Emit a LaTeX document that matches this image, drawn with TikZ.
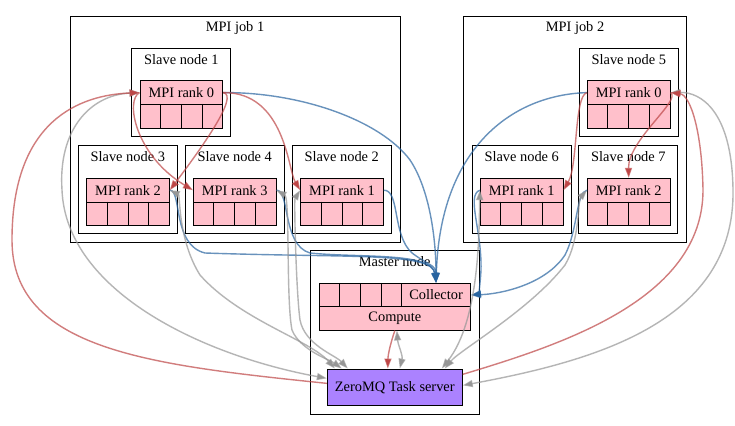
\documentclass[tikz,border=0pt]{standalone}
\usepackage{fontspec}
\setmainfont{Liberation Serif}
\usetikzlibrary{arrows.meta,calc}
\definecolor{ered}{RGB}{190,70,70}
\definecolor{eblue}{RGB}{40,100,160}
\definecolor{egray}{RGB}{150,150,150}
\definecolor{pinkf}{RGB}{255,192,203}
\definecolor{tsf}{RGB}{171,130,255}
\tikzset{
  cluster/.style={draw=black, line width=0.9pt, inner sep=0pt},
  slave/.style={cluster, minimum width=99pt, minimum height=88.5pt},
  lbl/.style={inner sep=0pt, font=\fontsize{14.4}{16}\selectfont},
  rec/.style={draw=black, line width=0.9pt, fill=pinkf, inner sep=0pt,
    minimum width=82.7pt, minimum height=23.7pt, font=\fontsize{14.4}{16}\selectfont},
  edgebase/.style={line width=1.4pt, draw opacity=0.7},
  redge/.style={edgebase, draw=ered, -{Triangle[length=10pt,width=7pt,fill=ered]}},
  bedge/.style={edgebase, draw=eblue, -{Triangle[length=10pt,width=7pt,fill=eblue]}},
  gedge/.style={edgebase, draw=egray, {Triangle[length=10pt,width=7pt,fill=egray]}-{Triangle[length=10pt,width=7pt,fill=egray]}},
}
\begin{document}
\begin{tikzpicture}[x=1pt,y=-1pt]
\fill[white] (0,0) rectangle (735,425);
\useasboundingbox (0,0) rectangle (735,425);

% clusters
\node[cluster, minimum width=330pt, minimum height=226pt] (job1) at (235,129) {};
\node[lbl] (job1l) at ([yshift=-12pt]job1.north) {MPI job 1};
\node[cluster, minimum width=223.4pt, minimum height=226pt] (job2) at (575,129) {};
\node[lbl] (job2l) at ([yshift=-12pt]job2.north) {MPI job 2};
\node[cluster, minimum width=169.3pt, minimum height=164pt] (master) at (394.65,332) {};
\node[lbl] (masterl) at ([yshift=-12pt]master.north) {Master node};

% slave nodes
\node[slave] (sn1) at (181.35,92.65) {};
\node[slave] (sn3) at (127.8,189.3) {};
\node[slave] (sn4) at (234.7,189.3) {};
\node[slave] (sn2) at (341.7,189.3) {};
\node[slave] (sn5) at (628.8,92.65) {};
\node[slave] (sn6) at (521.7,189.3) {};
\node[slave] (sn7) at (628.4,189.3) {};
\foreach \s/\t in {sn1/Slave node 1,sn2/Slave node 2,sn3/Slave node 3,sn4/Slave node 4,sn5/Slave node 5,sn6/Slave node 6,sn7/Slave node 7}
  \node[lbl] (\s l) at ([yshift=-11.8pt]\s.north) {\t};

% rank records
\node[rec] (a0) at (181.35,92.6) {MPI rank 0};
\node[rec] (ca0) at (181.35,116.3) {};
\node[rec] (a2) at (128,190.2) {MPI rank 2};
\node[rec] (ca2) at (128,213.9) {};
\node[rec] (a3) at (234.7,190.2) {MPI rank 3};
\node[rec] (ca3) at (234.7,213.9) {};
\node[rec] (a1) at (342,190.2) {MPI rank 1};
\node[rec] (ca1) at (342,213.9) {};
\node[rec] (b0) at (628.7,92.6) {MPI rank 0};
\node[rec] (cb0) at (628.7,116.3) {};
\node[rec] (b1) at (521.7,190.2) {MPI rank 1};
\node[rec] (cb1) at (521.7,213.9) {};
\node[rec] (b2) at (628.7,190.2) {MPI rank 2};
\node[rec] (cb2) at (628.7,213.9) {};
\foreach \n in {a0,a1,a2,a3,b0,b1,b2}
  \foreach \f in {0.25,0.5,0.75}
    \draw[line width=0.9pt] ($(c\n.north west)!\f!(c\n.north east)$) -- ($(c\n.south west)!\f!(c\n.south east)$);

% master record
\node[rec, minimum width=82.7pt, minimum height=23.4pt] (queue) at (360.35,295) {};
\node[rec, minimum width=69pt, minimum height=23.4pt] (col) at (436.05,295) {Collector};
\node[rec, minimum width=151.7pt, minimum height=23.3pt] (comp) at (394.85,318.35) {Compute};
\foreach \f in {0.25,0.5,0.75}
  \draw[line width=0.9pt] ($(queue.north west)!\f!(queue.north east)$) -- ($(queue.south west)!\f!(queue.south east)$);
\node[draw=black, line width=0.9pt, fill=tsf, inner sep=0pt, minimum width=135pt, minimum height=36.7pt,
  font=\fontsize{14.4}{16}\selectfont] (ts) at (394.8,387.35) {ZeroMQ Task server};

% blue edges (ranks -> collector)
\draw[bedge] (a0.east) .. controls (300,92) and (380,120) .. (410,160) .. controls (430,190) and (436,240) .. (col.north);
\draw[bedge] (b0.west) .. controls (510,95) and (440,150) .. (col.north);
\draw[bedge] (a2.east) .. controls (182,190) and (172,245) .. (205,253) .. controls (350,258) and (432,252) .. (col.north);
\draw[bedge] (a3.east) .. controls (290,190) and (282,245) .. (310,253) .. controls (360,258) and (432,252) .. (col.north);
\draw[bedge] (a1.east) .. controls (400,190) and (392,235) .. (412,253) .. controls (428,265) and (436,265) .. (col.north);
\draw[bedge] (b1.west) .. controls (466,195) and (482,230) .. (481,270) .. controls (480,288) and (478,294) .. (col.east);
\draw[bedge] (b2.west) .. controls (576,192) and (578,230) .. (565,255) .. controls (545,285) and (500,294) .. (col.east);

% gray edges (task server <-> ranks, compute)
\draw[gedge] (a0.west) .. controls (90,95) and (58,130) .. (62,190) .. controls (66,290) and (200,355) .. ([yshift=9pt]ts.west);
\draw[gedge] (a2.east) .. controls (180,195) and (178,240) .. (200,275) .. controls (240,320) and (310,340) .. ([xshift=-60pt]ts.north);
\draw[gedge] (a3.east) .. controls (290,198) and (286,300) .. (292,330) .. controls (300,350) and (330,360) .. ([xshift=-53pt]ts.north);
\draw[gedge] (a1.west) .. controls (294,200) and (296,290) .. (300,320) .. controls (305,345) and (335,355) .. ([xshift=-47pt]ts.north);
\draw[gedge] (b1.west) .. controls (479,230) and (480,320) .. ([xshift=47pt]ts.north);
\draw[gedge] (b2.west) .. controls (578,200) and (580,240) .. (565,265) .. controls (530,310) and (460,350) .. ([xshift=50pt]ts.north);
\draw[gedge] ([yshift=2pt]ts.east) .. controls (600,360) and (735,320) .. (733,190) .. controls (732,110) and (700,92) .. (b0.east);
\draw[gedge] ([xshift=5pt]ts.north) .. controls (403,355) and (398,345) .. ([xshift=2pt]comp.south);

% red edges
\draw[redge] ([yshift=4pt]ts.west) .. controls (150,365) and (12,350) .. (12,240) .. controls (12,120) and (80,95) .. (a0.west);
\draw[redge] (a0.west) .. controls (125,100) and (135,155) .. (a3.west);
\draw[redge] (a0.east) .. controls (240,95) and (200,150) .. (a2.east);
\draw[redge] (a0.east) .. controls (285,92) and (288,170) .. (a1.west);
\draw[redge] ([yshift=13pt]ts.east) .. controls (560,345) and (703,300) .. (703,190) .. controls (702,130) and (690,95) .. (b0.east);
\draw[redge] (b0.east) .. controls (682,100) and (628,140) .. (b2.north);
\draw[redge] (b0.west) .. controls (574,96) and (578,165) .. (b1.east);
\draw[redge] (comp.south) .. controls (390,345) and (388,355) .. ([xshift=-7pt]ts.north);
\end{tikzpicture}
\end{document}
